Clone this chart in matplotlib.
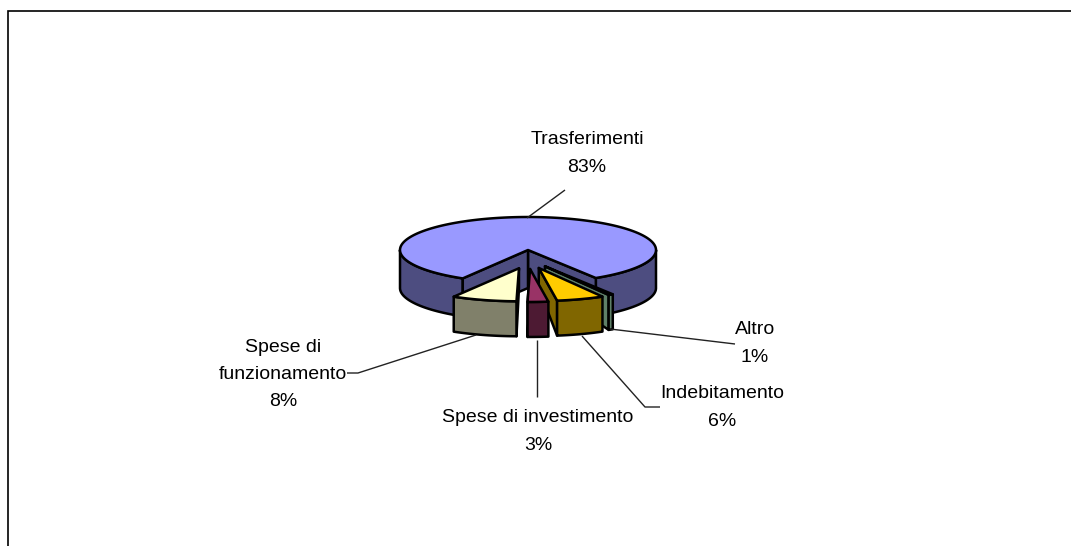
import numpy as np
import matplotlib
matplotlib.use("Agg")
import matplotlib.pyplot as plt
from matplotlib.patches import Polygon, Rectangle

# Data
categories = ["Trasferimenti", "Altro", "Indebitamento", "Spese di investimento", "Spese di\nfunzionamento"]
values = [82.6, 0.6, 6.0, 2.6, 8.2]
labels_pct = ["83%", "1%", "6%", "3%", "8%"]
top_colors = ["#9999FF", "#6B9078", "#FFCC00", "#993366", "#FFFFCC"]
side_colors = ["#4D4D80", "#5F8068", "#806600", "#4D1A33", "#80806A"]
label_pos = [(587, 153.5), (755, 343.5), (722, 407.5), (538, 431.5), (283, 374.5)]
leaders = [
    [(527, 218), (565, 190)],
    [(610, 329), (735, 344)],
    [(582, 336), (645, 407), (660, 407)],
    [(537, 340), (537, 397)],
    [(476, 335), (358, 373), (347, 373)],
]

W, H = 1071, 546
CX, CY, RX, RY = 528, 250, 128, 33
DEPTH_MAIN, DEPTH_SLICE, DEPTH_TIP = 38, 35, 20
EX, EY = 33, 19
START = 148.0  # clockwise from top, where Trasferimenti ends / Altro starts
LW = 1.8

fig = plt.figure(figsize=(W / 100, H / 100), dpi=100)
ax = fig.add_axes([0, 0, 1, 1])
ax.set_xlim(0, W)
ax.set_ylim(H, 0)
ax.axis("off")

ax.add_patch(Rectangle((7.5, 11.2), 1100, 600, fc="white", ec="black", lw=1.2, zorder=0))


def pt(th, cx, cy):
    return cx + RX * np.sin(th), cy - RY * np.cos(th)


def arc(a, b, cx, cy, n=90):
    t = np.linspace(a, b, n)
    return np.column_stack(pt(t, cx, cy))


def poly(xy, fc, z):
    ax.add_patch(Polygon(xy, closed=True, fc=fc, ec="black", lw=LW, joinstyle="round", zorder=z))


def wall(a, b, cx, cy, d, fc, z):
    """Outer wall between angles a and b."""
    top = arc(a, b, cx, cy)
    poly(np.vstack([top, top[::-1] + [0, d]]), fc, z)


def cut(th, cx, cy, d, dtip, fc, z):
    """Radial cut face from the centre to the rim at angle th."""
    p = np.array(pt(th, cx, cy))
    c = np.array([cx, cy])
    poly([c, p, p + [0, d], c + [0, dtip]], fc, z)


fr = np.array(values) / sum(values) * 2 * np.pi
a0 = np.radians(START)

# Main slice: spans clockwise from (START - its sweep) up to START
m_start, m_end = a0 - fr[0], a0
wall(np.pi * 0.5, m_end, CX, CY, DEPTH_MAIN, side_colors[0], 1)
wall(m_start, -np.pi * 0.5, CX, CY, DEPTH_MAIN, side_colors[0], 1)
cut(m_end, CX, CY, DEPTH_MAIN, DEPTH_MAIN, side_colors[0], 2)
cut(m_start, CX, CY, DEPTH_MAIN, DEPTH_MAIN, side_colors[0], 2)
poly(np.vstack([[CX, CY], arc(m_start, m_end, CX, CY, 300)]), top_colors[0], 3)

# Exploded slices, walking clockwise from START
edges = a0 + np.concatenate([[0], np.cumsum(fr[1:])])
order = [1, 2, 4, 3]
for i in order:
    a, b = edges[i - 1], edges[i]
    mid = (a + b) / 2
    cx = CX + EX * np.sin(mid)
    cy = CY - EY * np.cos(mid)
    z = 10 + order.index(i) * 3
    c = side_colors[i]
    if np.sin(mid) > 0.03:
        cut(b, cx, cy, DEPTH_SLICE, DEPTH_TIP, c, z)
    elif np.sin(mid) < -0.03:
        cut(a, cx, cy, DEPTH_SLICE, DEPTH_TIP, c, z)
    wall(a, b, cx, cy, DEPTH_SLICE, c, z + 1)
    poly(np.vstack([[cx, cy], arc(a, b, cx, cy, 40)]), top_colors[i], z + 2)

# Labels
for (x, y), cat, pct, ln in zip(label_pos, categories, labels_pct, leaders):
    ax.text(x, y, f"{cat}\n{pct}", ha="center", va="center", family="Liberation Sans",
            fontsize=14, linespacing=1.8, color="black", zorder=40)
    ax.plot(*zip(*ln), color="#222222", lw=1.0, zorder=30, solid_capstyle="butt")

fig.savefig("out.png", dpi=100)
